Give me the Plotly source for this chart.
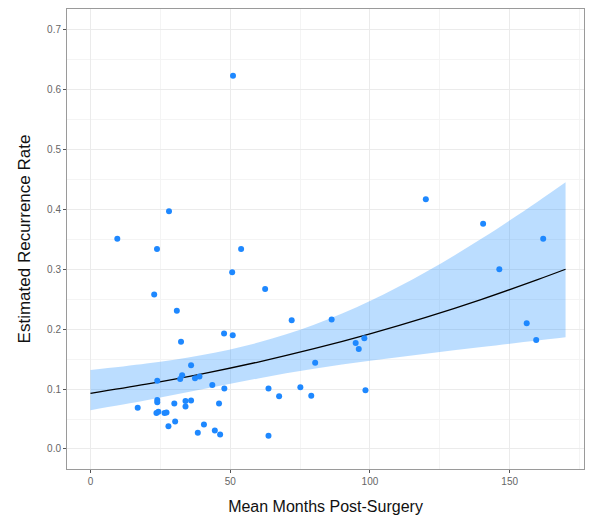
import plotly.graph_objects as go

# Observed points (months, recurrence rate)
months = [28.1, 9.6, 23.8, 53.9, 50.7, 22.8, 30.9, 47.8, 50.9, 32.4, 36.0, 23.9, 32.8, 32.1,
          37.4, 39.0, 43.6, 47.9, 16.9, 23.9, 23.9, 30.0, 34.0, 36.0, 34.0, 46.0, 23.6, 24.3,
          26.5, 27.2, 30.3, 27.9, 40.6, 38.4, 44.5, 46.4, 72.0, 86.3, 94.9, 98.0, 96.0, 80.4,
          63.7, 67.5, 75.1, 79.0, 98.4, 63.7, 120.0, 62.5, 140.5, 162.0, 146.3, 156.1, 159.5, 51.0]
rates = [0.397, 0.351, 0.334, 0.334, 0.295, 0.258, 0.231, 0.193, 0.190, 0.179, 0.140, 0.114, 0.123, 0.117,
         0.118, 0.121, 0.107, 0.101, 0.069, 0.082, 0.078, 0.076, 0.080, 0.081, 0.071, 0.076, 0.060, 0.062,
         0.060, 0.061, 0.046, 0.038, 0.041, 0.027, 0.031, 0.024, 0.215, 0.216, 0.177, 0.185, 0.167, 0.144,
         0.101, 0.088, 0.103, 0.089, 0.098, 0.022, 0.417, 0.267, 0.376, 0.351, 0.300, 0.210, 0.182, 0.623]

# Fitted curve and confidence band
fit_x = [0, 20, 40, 60, 80, 100, 120, 140, 160, 170]
fit_y = [0.0930, 0.1082, 0.1255, 0.1452, 0.1674, 0.1922, 0.2197, 0.2499, 0.2828, 0.3001]
band_hi = [0.1317, 0.1426, 0.1570, 0.1776, 0.2073, 0.2469, 0.2954, 0.3513, 0.4130, 0.4453]
band_lo = [0.0648, 0.0813, 0.0996, 0.1179, 0.1338, 0.1472, 0.1590, 0.1701, 0.1810, 0.1864]

x_ticks = [0, 50, 100, 150]
y_ticks = [0.0, 0.1, 0.2, 0.3, 0.4, 0.5, 0.6, 0.7]

fig = go.Figure()
fig.add_trace(go.Scatter(x=fit_x, y=band_lo, mode="lines", line=dict(width=0, shape="spline"),
                         hoverinfo="skip", showlegend=False))
fig.add_trace(go.Scatter(x=fit_x, y=band_hi, mode="lines", line=dict(width=0, shape="spline"),
                         fill="tonexty", fillcolor="rgba(30,144,255,0.3)",
                         hoverinfo="skip", showlegend=False))
fig.add_trace(go.Scatter(x=fit_x, y=fit_y, mode="lines",
                         line=dict(color="black", width=1.3, shape="spline"), showlegend=False))
fig.add_trace(go.Scatter(x=months, y=rates, mode="markers",
                         marker=dict(color="#1E88FF", size=6), showlegend=False))

axis_common = dict(
    showline=True, linecolor="#9A9A9A", linewidth=1, mirror=True,
    showgrid=True, gridcolor="#EBEBEB", gridwidth=1,
    ticks="outside", ticklen=3, tickcolor="#555555", tickwidth=1,
    tickfont=dict(family="Liberation Sans, Arial", size=10, color="#666666"),
    zeroline=False,
)

fig.update_xaxes(range=[-8.4, 176.6], tickvals=x_ticks,
                 minor=dict(dtick=25, tick0=25, showgrid=True, gridcolor="#F4F4F4", ticks=""),
                 title=dict(text="Mean Months Post-Surgery",
                            font=dict(family="Liberation Sans, Arial", size=16, color="#111111"),
                            standoff=14),
                 **axis_common)
fig.update_yaxes(range=[-0.0334, 0.7346], tickvals=y_ticks, tickformat=".1f",
                 minor=dict(dtick=0.05, tick0=0.05, showgrid=True, gridcolor="#F4F4F4", ticks=""),
                 title=dict(text="Estimated Recurrence Rate",
                            font=dict(family="Liberation Sans, Arial", size=17, color="#111111"),
                            standoff=12),
                 **axis_common)

fig.update_layout(
    width=592, height=519,
    margin=dict(l=67, r=8, t=9, b=50, autoexpand=False),
    plot_bgcolor="white", paper_bgcolor="white",
)

fig.write_html("out.html", config={"displayModeBar": False},
               post_script="document.body.style.margin='0';document.body.style.overflow='hidden';")
